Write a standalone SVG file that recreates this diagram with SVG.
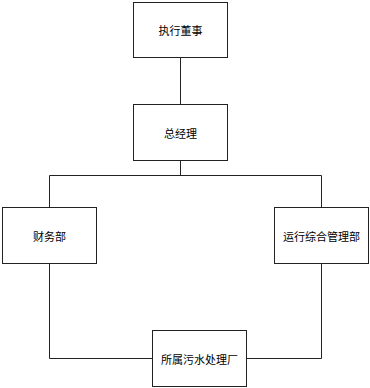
<svg xmlns="http://www.w3.org/2000/svg" width="370" height="388" viewBox="0 0 370 388">
<style>
.box{fill:#fff;stroke:#222;stroke-width:1}
.t{font-family:"Noto Sans CJK SC","Liberation Sans",sans-serif;font-size:11px;fill:#000;text-anchor:middle;dominant-baseline:central}
.c{fill:none;stroke:#222;stroke-width:1}
</style>
<rect width="370" height="388" fill="#fff"/>
<g id="connectors">
<path class="c" d="M180.5 58V104.5"/>
<path class="c" d="M180.5 160.5V175.5M49.5 175.5H321.5M49.5 175.5V207.5M321.5 175.5V207.5"/>
<path class="c" d="M49.5 264V358.5H152.5M321.5 264V358.5H246"/>
</g>
<g id="n1"><rect class="box" x="133.5" y="2.5" width="94" height="55"/><text class="t" x="180.5" y="30">执行董事</text></g>
<g id="n2"><rect class="box" x="133.5" y="104.5" width="94" height="56"/><text class="t" x="180.5" y="132.5">总经理</text></g>
<g id="n3"><rect class="box" x="2.5" y="207.5" width="94" height="56"/><text class="t" x="49.5" y="235.5">财务部</text></g>
<g id="n4"><rect class="box" x="274.5" y="207.5" width="94" height="56"/><text class="t" x="321.5" y="235.5">运行综合管理部</text></g>
<g id="n5"><rect class="box" x="152.5" y="330.5" width="94" height="56"/><text class="t" x="199.5" y="358.5">所属污水处理厂</text></g>
</svg>
